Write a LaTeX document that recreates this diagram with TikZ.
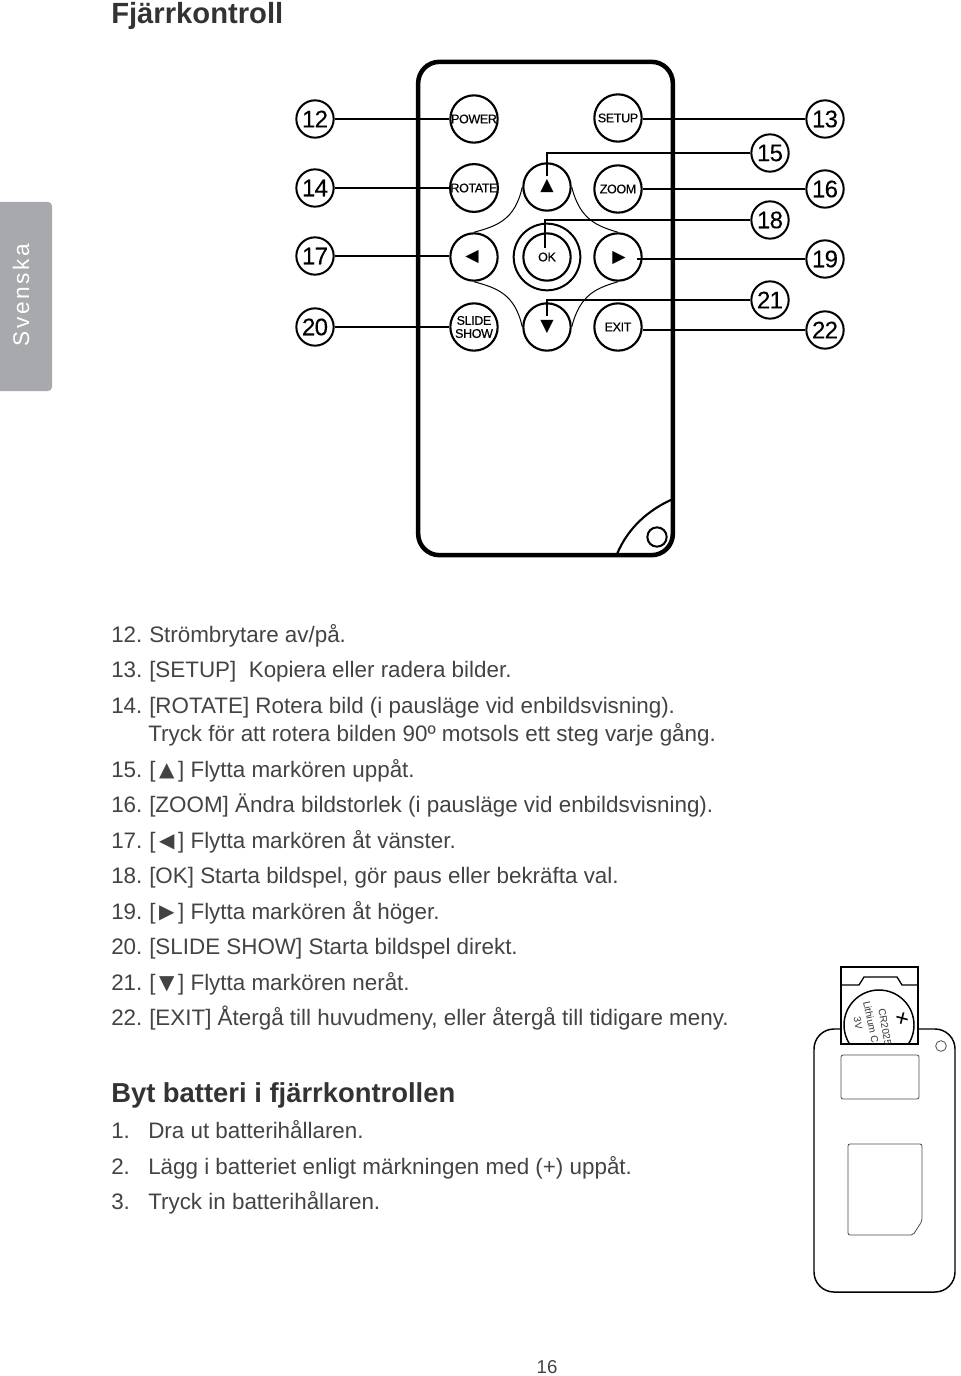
\documentclass[tikz,border=0pt]{standalone}
\usepackage{fontspec}
\setmainfont{Liberation Sans}
\newfontfamily\symfont{DejaVu Sans}
\newfontfamily\tabfont[LetterSpace=12]{Liberation Sans}
\newfontfamily\calloutfont[FakeBold=0.15,LetterSpace=-3]{Liberation Sans}
\newfontfamily\keyfont[FakeBold=0.5,LetterSpace=-3]{Liberation Sans}
\usetikzlibrary{arrows.meta,calc,positioning}
\definecolor{tabgrey}{HTML}{A7A9AC}
\definecolor{bodytext}{HTML}{434345}
\newcommand{\numbered}[2]{\makebox[28.5pt][l]{#1}#2}
\newcommand{\tri}[1]{\makebox[17pt]{\raisebox{0.5pt}{\symfont\fontsize{15}{15}\selectfont #1}}}

\begin{document}
\begin{tikzpicture}[
  x=0.75pt,y=-0.75pt,
  line/.style={draw=black,line width=1.6pt},
  thinline/.style={draw=black,line width=0.75pt},
  callout/.style={circle,draw=black,line width=1.5pt,minimum size=28pt,inner sep=0pt,
                  font=\calloutfont\fontsize{18}{18}\selectfont},
  button/.style={circle,draw=black,line width=1.6pt,minimum size=35.5pt,inner sep=0pt,align=center,
                 font=\keyfont\fontsize{9.4}{9.8}\selectfont},
  arrowglyph/.style={font=\symfont\fontsize{13}{13}\selectfont},
  item/.style={anchor=base west,inner sep=0pt,text=bodytext,font=\fontsize{16.8}{20}\selectfont},
  coin/.style={inner sep=0pt,text=black!80,font=\fontsize{7.5}{8}\selectfont},
  heading/.style={anchor=base west,inner sep=0pt,text=black!80}
]
\useasboundingbox (0,0) rectangle (960,1376);

% side tab
\fill[tabgrey,rounded corners=3pt] (-10,202) rectangle (52,391);
\node[rotate=90,text=white,font=\tabfont\fontsize{17}{18}\selectfont] (tab) at (21,295) {Svenska};

\node[heading,font=\bfseries\fontsize{21.9}{26}\selectfont] (title) at (111,24) {Fjärrkontroll};

% remote
\node[draw=black,line width=3.4pt,rounded corners=16pt,minimum width=191pt,minimum height=370pt,
      inner sep=0pt] (remote) at (545.5,308.5) {};
\node[circle,draw=black,line width=1.5pt,minimum size=14.5pt,inner sep=0pt] (hole) at (657,537) {};
\coordinate (cornerup) at (673,499);
\coordinate (cornerlow) at (617,554);
\draw[line] (cornerup) .. controls (648,510) and (628,528) .. (cornerlow);

\node[button] (power) at (474,119) {POWER};
\node[button] (rotate) at (474,188) {ROTATE};
\node[button] (left) at (474,257) {};
\node[button] (slide) at (474,327) {SLIDE\\SHOW};
\node[button] (setup) at (618,118) {SETUP};
\node[button] (zoom) at (618,189) {ZOOM};
\node[button] (right) at (618,257) {};
\node[button] (exit) at (618,327) {EXIT};
\node[button] (up) at (547,187) {};
\node[button] (ok) at (547,257) {OK};
\node[circle,draw=black,line width=1.5pt,minimum size=50pt,inner sep=0pt] (okring) at (547,257) {};
\node[button] (down) at (547,327) {};
\node[arrowglyph] (upglyph) at (547,186) {▲};
\node[arrowglyph] (leftglyph) at (472,257) {◀};
\node[arrowglyph] (rightglyph) at (619,258) {▶};
\node[arrowglyph] (downglyph) at (547,327) {▼};

\draw[thinline] (up.west) .. controls (515,220) and (497,226) .. (left.north);
\draw[thinline] (up.east) .. controls (580,220) and (597,226) .. (right.north);
\draw[thinline] (left.south) .. controls (497,288) and (515,294) .. (down.west);
\draw[thinline] (right.south) .. controls (597,288) and (580,294) .. (down.east);

\node[callout] (n12) at (315,119) {12};
\node[callout] (n14) at (315,188) {14};
\node[callout] (n17) at (315,256) {17};
\node[callout] (n20) at (315,327) {20};
\node[callout] (n13) at (825,119) {13};
\node[callout] (n16) at (825,189) {16};
\node[callout] (n19) at (825,259) {19};
\node[callout] (n22) at (825,330) {22};
\node[callout] (n15) at (770,153) {15};
\node[callout] (n18) at (770,220) {18};
\node[callout] (n21) at (770,300) {21};

\draw[line] (n12) -- (power);
\draw[line] (n14) -- (rotate);
\draw[line] (n17.east) -- (left.west |- n17.east);
\draw[line] (n20) -- (slide);
\draw[line] (n13.west) -- (setup.east |- n13.west);
\draw[line] (n16.west) -- (zoom.east |- n16.west);
\draw[line] (n19.west) -- ([xshift=-4pt]right.east |- n19.west);
\draw[line] (n22.west) -- (exit.east |- n22.west);
\draw[line] (n15.west) -| ([yshift=-10pt]up.north);
\draw[line] (n18.west) -| ([xshift=-1.5pt,yshift=-12pt]ok.north);
\draw[line] (n21.west) -| ([yshift=-10pt]down.north);

% instructions
\node[item] (i12) at (111,642) {\numbered{12.}{Strömbrytare av/på.}};
\node[item] (i13) at (111,677) {\numbered{13.}{[SETUP]\ \ Kopiera eller radera bilder.}};
\node[item] (i14) at (111,713) {\numbered{14.}{[ROTATE] Rotera bild (i pausläge vid enbildsvisning).}};
\node[item] (i14b) at (148,741) {Tryck för att rotera bilden 90º motsols ett steg varje gång.};
\node[item] (i15) at (111,777) {\numbered{15.}{[\tri{▲}] Flytta markören uppåt.}};
\node[item] (i16) at (111,812) {\numbered{16.}{[ZOOM] Ändra bildstorlek (i pausläge vid enbildsvisning).}};
\node[item] (i17) at (111,848) {\numbered{17.}{[\tri{◀}] Flytta markören åt vänster.}};
\node[item] (i18) at (111,883) {\numbered{18.}{[OK] Starta bildspel, gör paus eller bekräfta val.}};
\node[item] (i19) at (111,919) {\numbered{19.}{[\tri{▶}] Flytta markören åt höger.}};
\node[item] (i20) at (111,954) {\numbered{20.}{[SLIDE SHOW] Starta bildspel direkt.}};
\node[item] (i21) at (111,990) {\numbered{21.}{[\tri{▼}] Flytta markören neråt.}};
\node[item] (i22) at (111,1025) {\numbered{22.}{[EXIT] Återgå till huvudmeny, eller återgå till tidigare meny.}};

\node[heading,font=\bfseries\fontsize{20.55}{26}\selectfont] (battery) at (111,1102) {Byt batteri i fjärrkontrollen};
\node[item] (b1) at (111,1138) {\makebox[27.75pt][l]{1.}Dra ut batterihållaren.};
\node[item] (b2) at (111,1174) {\makebox[27.75pt][l]{2.}Lägg i batteriet enligt märkningen med (+) uppåt.};
\node[item] (b3) at (111,1209) {\makebox[27.75pt][l]{3.}Tryck in batterihållaren.};

% battery drawing
\draw[line width=1.1pt,rounded corners=15pt] (841,1029) -- (814,1029) -- (814,1292) -- (955,1292) -- (955,1029) -- (918,1029);
\begin{scope}
  \clip (841,967) rectangle (918,1044);
  \draw[line width=1.1pt] (879,1025) circle[radius=35];
\end{scope}
\node[draw=black,line width=1.3pt,minimum width=57.75pt,minimum height=57.75pt,inner sep=0pt] (holder) at (879.5,1005.5) {};
\draw[line width=1pt] (841,985) -- (859,985) -- (864,977) -- (897,977) -- (902,985) -- (918,985);
\node[coin,rotate=-80] (cr) at (885,1027) {CR2025};
\node[coin,rotate=-78] (lith) at (871,1022) {Lithium C};
\node[coin,rotate=-80] (volt) at (858,1023) {3V};
\node[rotate=-15,font=\fontsize{18}{18}\selectfont,inner sep=0pt] (plus) at (902,1020) {+};
\node[circle,draw=black!70,line width=0.6pt,minimum size=8pt,inner sep=0pt] (led) at (941,1046) {};
\draw[draw=black!70,line width=0.6pt,rounded corners=1.5pt] (841,1055) rectangle (919,1099);
\draw[draw=black!70,line width=0.6pt,rounded corners=1.5pt] (848,1144) -- (922,1144) -- (922,1221) -- (913,1235) -- (848,1235) -- cycle;

\node[font=\fontsize{14}{16}\selectfont,text=bodytext] (page) at (547,1367) {16};
\end{tikzpicture}
\end{document}
